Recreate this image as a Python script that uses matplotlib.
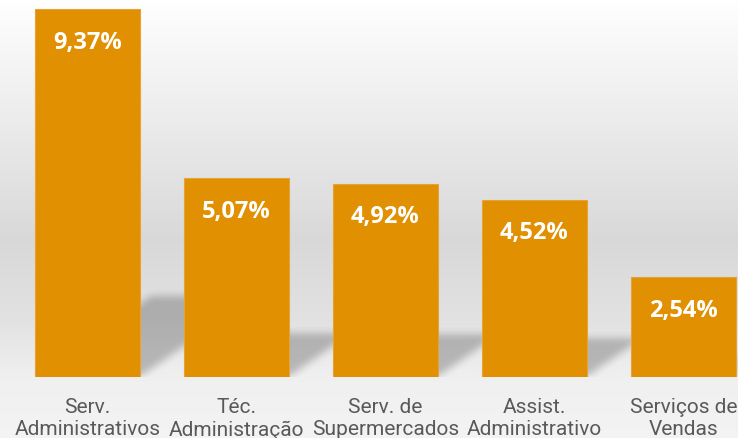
import matplotlib.pyplot as plt
import numpy as np
from matplotlib.path import Path

categories = ["Serv.\nAdministrativos", "Téc.\nAdministração", "Serv. de\nSupermercados",
              "Assist.\nAdministrativo", "Serviços de\nVendas"]
values = [9.37, 5.07, 4.92, 4.52, 2.54]
labels = ["9,37%", "5,07%", "4,92%", "4,52%", "2,54%"]

bar_color = "#E09000"
W, H = 738, 439

fig = plt.figure(figsize=(W / 100, H / 100), dpi=100)

# background gradient (figure level)
bg = fig.add_axes([0, 0, 1, 1])
rows = np.arange(H)
stops_y = [0, 240, 320, 378, H]
stops_v = [1.0, 0.85, 0.885, 0.94, 0.955]
col = np.interp(rows, stops_y, stops_v)
img = np.repeat(col[:, None], 2, axis=1)
bg.imshow(np.dstack([img, img, img]), aspect="auto", extent=[0, 1, 0, 1], origin="upper")
bg.set_axis_off()

base_frac = (H - 378) / H
ax = fig.add_axes([0, base_frac, 1, 1 - base_frac])
ax.patch.set_alpha(0)
x = np.arange(len(values))
width = 0.705
ax.set_xlim(-0.587, 4.366)
ax.set_ylim(0, 9.626)

# soft perspective shadows behind each bar
k, s = 0.22, 0.377
gx = np.linspace(-0.587, 4.366, W)
gy = np.linspace(0, 9.626, 378)
XX, YY = np.meshgrid(gx, gy)
pts = np.column_stack([XX.ravel(), YY.ravel()])
mask = np.zeros(XX.size)
for xi, v in zip(x, values):
    sh = k * v
    poly = Path([(xi - width / 2, 0), (xi + width / 2, 0),
                 (xi + width / 2 + s * sh, sh), (xi - width / 2 + s * sh, sh)])
    mask = np.maximum(mask, poly.contains_points(pts).astype(float))
mask = mask.reshape(XX.shape)
kern = np.ones(9) / 9
for _ in range(2):
    mask = np.apply_along_axis(lambda r: np.convolve(r, kern, mode="same"), 1, mask)
    mask = np.apply_along_axis(lambda c: np.convolve(c, kern, mode="same"), 0, mask)
shadow = np.zeros(mask.shape + (4,))
shadow[..., 3] = mask * 0.23
ax.imshow(shadow, extent=[gx[0], gx[-1], 0, 9.626], origin="lower",
          aspect="auto", zorder=1, interpolation="bilinear")

ax.bar(x, values, width=width, color=bar_color, edgecolor="#E8A23A",
       linewidth=0.8, zorder=2)

for xi, v, lab in zip(x, values, labels):
    ax.annotate(lab, (xi, v), xytext=(0, -23.5), textcoords="offset points",
                ha="center", va="center", color="white", fontsize=17,
                fontweight="bold", family=["Open Sans", "DejaVu Sans"], zorder=3)

for xi, cat in zip(x, categories):
    ax.annotate(cat, (xi, 0), xytext=(0, -14.5), textcoords="offset points",
                ha="center", va="top", color="#595959", fontsize=15,
                linespacing=1.22, family=["Roboto", "DejaVu Sans"],
                annotation_clip=False)

ax.set_axis_off()
fig.savefig("out.png", dpi=100)
